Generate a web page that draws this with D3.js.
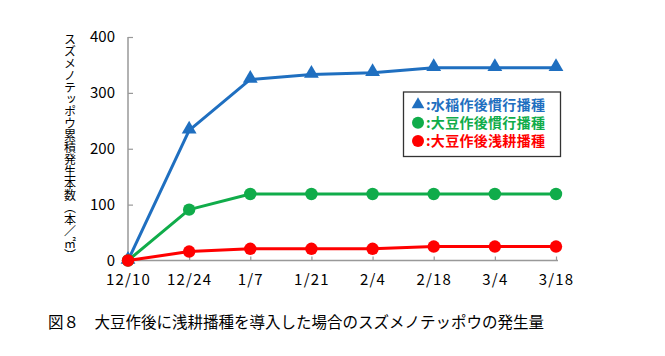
<!DOCTYPE html>
<html><head><meta charset="utf-8">
<script src="https://cdn.jsdelivr.net/npm/d3@7"></script>
<style>
html,body{margin:0;padding:0;background:#fff;}
svg{display:block;font-family:"Noto Sans CJK JP","Noto Sans",sans-serif;}
</style></head>
<body>
<svg id="chart" width="665" height="356"></svg>
<script>
const categories = ["12/10","12/24","1/7","1/21","2/4","2/18","3/4","3/18"];
const suitouKankou = [0,233,324,333,336,345,345,345];
const daizuKankou = [0,91,119,119,119,119,119,119];
const daizuSenkou = [0,16,21,21,21,25,25,25];
const yTicks = [0,100,200,300,400];
const seriesNames = ["水稲作後慣行播種","大豆作後慣行播種","大豆作後浅耕播種"];
const yLabel = "スズメノテッポウ累積発生本数（本／㎡）";
const caption = "図８　大豆作後に浅耕播種を導入した場合のスズメノテッポウの発生量";

const series = [
  {name: seriesNames[0], values: suitouKankou, color: "#1f6fc0", shape: "triangle"},
  {name: seriesNames[1], values: daizuKankou, color: "#10ac4a", shape: "circle"},
  {name: seriesNames[2], values: daizuSenkou, color: "#ff0000", shape: "circle"}
];

const svg = d3.select("#chart");
const pL = 128, pR = 556, pT = 37, pB = 260.5;
const x = d3.scalePoint().domain(categories).range([pL, pR]);
const y = d3.scaleLinear().domain([0, 400]).range([pB, pT]);

// Axes
const yAxis = svg.append("g").attr("transform", `translate(${pL},0)`)
  .call(d3.axisLeft(y).tickValues(yTicks).tickSize(-5).tickPadding(13).tickFormat(d3.format("d")));
const xAxis = svg.append("g").attr("transform", `translate(0,${pB})`)
  .call(d3.axisBottom(x).tickSize(-4).tickPadding(13.5));
[yAxis, xAxis].forEach(g => {
  g.select(".domain").attr("stroke", "#999").attr("stroke-width", 1.5);
  g.selectAll(".tick line").attr("stroke", "#999").attr("stroke-width", 1.2);
  g.selectAll(".tick text").attr("fill", "#000")
    .style("font-family", '"Noto Sans CJK JP",sans-serif');
});
yAxis.selectAll(".tick text").style("font-size", "15px");
xAxis.selectAll(".tick text").style("font-size", "15px").style("letter-spacing", "1.2px").attr("dy", "0.75em");
xAxis.select(".domain").attr("d", `M${pL},0H${pR+2}`);
yAxis.select(".domain").attr("d", `M0,${pB}V${pT}`);

// Lines and markers
const line = d3.line().x((d, i) => x(categories[i])).y(d => y(d));
const tri = d3.symbol().type(d3.symbolTriangle).size(95);
series.forEach(s => {
  svg.append("path").datum(s.values).attr("d", line)
    .attr("fill", "none").attr("stroke", s.color).attr("stroke-width", 3)
    .attr("stroke-linejoin", "round");
  const g = svg.append("g");
  if (s.shape === "triangle") {
    g.selectAll("path").data(s.values).join("path")
      .attr("d", tri)
      .attr("transform", (d, i) => `translate(${x(categories[i])},${y(d) - 1})`)
      .attr("fill", s.color);
  } else {
    g.selectAll("circle").data(s.values).join("circle")
      .attr("cx", (d, i) => x(categories[i])).attr("cy", d => y(d))
      .attr("r", 6.2).attr("fill", s.color);
  }
});

// Legend
const lg = svg.append("g");
lg.append("rect").attr("x", 403.5).attr("y", 92).attr("width", 157).attr("height", 64.5)
  .attr("fill", "#fff").attr("stroke", "#333").attr("stroke-width", 1.3);
series.forEach((s, i) => {
  const cy = 104.5 + i * 18.3;
  if (s.shape === "triangle") {
    lg.append("path").attr("d", d3.symbol().type(d3.symbolTriangle).size(70))
      .attr("transform", `translate(418,${cy})`).attr("fill", s.color);
  } else {
    lg.append("circle").attr("cx", 418).attr("cy", cy).attr("r", 6).attr("fill", s.color);
  }
  lg.append("text").attr("x", 426).attr("y", cy).attr("dy", "0.36em")
    .attr("fill", s.color).style("font-size", "14px").style("font-weight", "bold")
    .style("letter-spacing", "0.3px")
    .text(":" + s.name);
});

// Y label (vertical writing)
svg.append("text")
  .attr("x", 70).attr("y", 33)
  .style("writing-mode", "vertical-rl")
  .style("font-size", "12px")
  .attr("fill", "#000")
  .text(yLabel);

// Caption
svg.append("text").attr("x", 48).attr("y", 328)
  .style("font-size", "15.5px").attr("fill", "#000").text(caption);
</script>
</body></html>
